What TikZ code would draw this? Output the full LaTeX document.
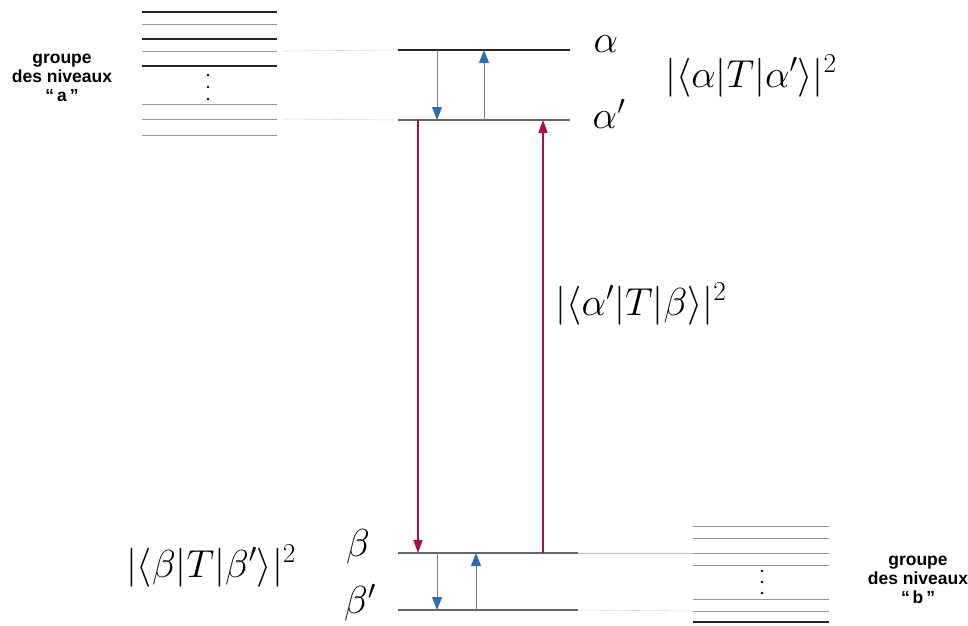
\documentclass[tikz,border=0pt]{standalone}
\usepackage{fix-cm}
\usepackage{amsmath,amssymb}
\usepackage{fontspec}
\newfontfamily\grpfont{Liberation Sans}
\usetikzlibrary{arrows.meta,positioning}
\definecolor{bleu}{RGB}{47,108,180}
\definecolor{bleugris}{RGB}{112,128,150}
\definecolor{pourpre}{RGB}{165,15,80}

\begin{document}
\begin{tikzpicture}[x=1pt, y=-1pt,
    niv/.style={line width=1.4pt, black!85},
    nivb/.style={line width=1.2pt, black!60},
    fin/.style={line width=0.9pt, black!40},
    lien/.style={densely dotted, black!35, line width=0.6pt},
    trans/.style={-{Triangle[length=13pt,width=10pt,color=bleu]}, bleugris, line width=1pt},
    inter/.style={-{Triangle[length=13pt,width=9pt]}, pourpre, line width=1.4pt},
    etiq/.style={font=\fontsize{39}{44}\selectfont},
    grp/.style={font=\grpfont\bfseries\fontsize{17.5}{19}\selectfont, align=center}]
    \useasboundingbox (0,0) rectangle (968,625);
    % groupe a
    \foreach \y in {12,39,66} \draw[niv] (142,\y) -- (277,\y);
    \foreach \y in {24,51,104,119,135} \draw[fin] (142,\y) -- (277,\y);
    \foreach \y in {75,87,99} \fill (208,\y) circle (1.3);
    \node[grp] (ga) at (62,78) {groupe\\des niveaux\\“\,a\,”};
    % groupe b
    \foreach \y in {526,538,553,565,599,611} \draw[fin] (693,\y) -- (829,\y);
    \draw[niv] (693,622) -- (829,622);
    \foreach \y in {571,582,593} \fill (762,\y) circle (1.3);
    \node[grp] (gb) at (918,580) {groupe\\des niveaux\\“\,b\,”};
    % niveaux
    \coordinate (alpha) at (398,50);
    \coordinate (alphap) at (398,120);
    \coordinate (beta) at (398,553);
    \coordinate (betap) at (398,610);
    \draw[niv] (alpha) -- ++(172,0);
    \draw[nivb] (alphap) -- ++(172,0);
    \draw[nivb] (beta) -- ++(180,0) coordinate (betad);
    \draw[nivb] (betap) -- ++(180,0) coordinate (betapd);
    \draw[lien] (283,51) -- (alpha);
    \draw[lien] (283,119) -- (alphap);
    \draw[lien] (betad) -- (693,553);
    \draw[lien] (betapd) -- (693,611);
    \node[etiq] (la) at (606,44) {$\alpha$};
    \node[etiq] (lap) at (609,114) {$\alpha'$};
    \node[etiq] (lb) at (358,547) {$\beta$};
    \node[etiq] (lbp) at (360,603) {$\beta'$};
    % transitions
    \coordinate (x1) at (437,0);
    \coordinate (x2) at (484,0);
    \coordinate (x3) at (476,0);
    \coordinate (x4) at (418,0);
    \coordinate (x5) at (543,0);
    \draw[trans] (x1 |- alpha) -- (x1 |- alphap);
    \draw[trans] (x2 |- alphap) -- (x2 |- alpha);
    \draw[trans] (x1 |- beta) -- (x1 |- betap);
    \draw[trans] (x3 |- betap) -- (x3 |- beta);
    \draw[inter] (x4 |- alphap) -- (x4 |- beta);
    \draw[inter] (x5 |- beta) -- (x5 |- alphap);
    \node[etiq] (ma) at (751,76) {$|\langle\alpha|T|\alpha'\rangle|^2$};
    \node[etiq] (mab) at (641,304) {$|\langle\alpha'|T|\beta\rangle|^2$};
    \node[etiq] (mb) at (211,566) {$|\langle\beta|T|\beta'\rangle|^2$};
\end{tikzpicture}
\end{document}
